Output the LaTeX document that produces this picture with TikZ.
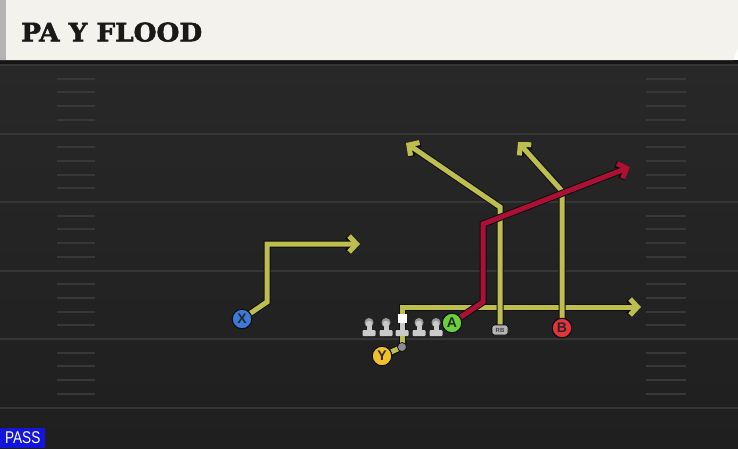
\documentclass[tikz,border=0pt]{standalone}
\usepackage{fontspec}
\usepackage{graphicx}
\setsansfont{Liberation Sans}
\newfontfamily\titlefont{DejaVu Serif}[BoldFont={DejaVu Serif Bold}, BoldFeatures={FakeBold=2}]
\usetikzlibrary{arrows.meta}
\definecolor{fieldtop}{HTML}{282828}
\definecolor{fieldbot}{HTML}{1F1F1F}
\definecolor{hdr}{HTML}{F4F2EC}
\definecolor{hdrstrip}{HTML}{B4B4B4}
\definecolor{band}{HTML}{151515}
\definecolor{fline}{HTML}{363636}
\definecolor{hashc}{HTML}{383838}
\definecolor{route}{HTML}{BDBD50}
\definecolor{redroute}{HTML}{AC1034}
\definecolor{outl}{HTML}{0E0E0E}
\definecolor{xblue}{HTML}{3C7AD8}
\definecolor{ygold}{HTML}{F0C028}
\definecolor{agreen}{HTML}{68D03C}
\definecolor{bred}{HTML}{E5333D}
\definecolor{lmgray}{HTML}{CACACA}
\definecolor{lmknob}{HTML}{9A9A9A}
\definecolor{rbgray}{HTML}{B4B4B4}
\definecolor{passblue}{HTML}{1515DA}
\tikzset{
  tipbarb/.style={-{Straight Barb[length=7.5pt,width=16pt]}},
  rt/.style={draw=route, line width=5pt, line join=miter, tipbarb,
    preaction={draw=outl, line width=7pt}},
  rtplain/.style={draw=route, line width=5pt, line join=miter,
    preaction={draw=outl, line width=7pt}},
  rtred/.style={draw=redroute, line width=5pt, line join=miter, tipbarb,
    preaction={draw=outl, line width=7pt}},
  player/.style={circle, draw=outl, line width=1pt, minimum size=19.5pt,
    inner sep=0pt, font=\sffamily\bfseries\fontsize{14}{14}\selectfont, text=black!85},
  rbstyle/.style={draw=outl, fill=rbgray, rounded corners=2.5pt, line width=0.7pt,
    minimum width=16pt, minimum height=10pt, inner sep=0pt,
    font=\sffamily\bfseries\fontsize{6}{6}\selectfont, text=black!75},
  qbdot/.style={circle, fill=black!45, draw=outl, line width=0.7pt, minimum size=9pt, inner sep=0pt},
  lineman/.pic={
    \fill[lmgray, rounded corners=1pt] (-6.5,-6) rectangle (6.5,0);
    \fill[lmgray] (-2.5,-13) rectangle (2.5,-5);
    \fill[lmknob] (0,-13.5) circle (4.5pt);
    \fill[lmgray] (0,-12) circle (3.2pt);
  },
  centerman/.pic={
    \fill[lmgray, rounded corners=1pt] (-6.5,-6) rectangle (6.5,0);
    \fill[lmgray] (-2.5,-14) rectangle (2.5,-5);
    \fill[white] (-4.5,-22) rectangle (4.5,-13);
  },
  hashmark/.style={draw=hashc, line width=2pt},
  fieldline/.style={draw=fline, line width=2pt}
}
\begin{document}
\begin{tikzpicture}[x=1pt,y=-1pt]
\useasboundingbox (0,0) rectangle (738,448);
% field
\fill[top color=fieldtop, bottom color=fieldbot] (0,60) rectangle (738,448);
\fill[band] (0,60) rectangle (738,65);
\foreach \L in {65,133.5,202,270.5,339,407.5}{
  \draw[fieldline] (0,\L) -- (738,\L);
}
\foreach \L in {133.5,202,270.5,339,407.5}{
  \foreach \k in {1,2,3,4}{
    \draw[hashmark] (57,\L-13.7*\k) -- (95,\L-13.7*\k);
    \draw[hashmark] (646,\L-13.7*\k) -- (686,\L-13.7*\k);
  }
}
% header
\fill[hdr] (0,0) -- (738,0) -- (738,48) -- (733,60) -- (0,60) -- cycle;
\fill[hdrstrip] (0,0) rectangle (6,60);
\node[anchor=south west, inner sep=0pt, text=black!90] (title) at (21,42)
  {\resizebox{181pt}{19pt}{\titlefont\bfseries PA Y FLOOD}};

% coordinates
\coordinate (xb) at (267,302);
\coordinate (xc) at (267,244);
\coordinate (xe) at (360,244);
\coordinate (yc) at (402,307);
\coordinate (ye) at (641,307);
\coordinate (ab) at (483,302);
\coordinate (ac) at (483,224);
\coordinate (ae) at (630,167);
\coordinate (rbc) at (500,207);
\coordinate (rbe) at (406,143);
\coordinate (bc) at (562,191);
\coordinate (be) at (518,142);

% players (positions)
\node[player, fill=xblue] (X) at (242,319) {X};
\node[player, fill=ygold] (Y) at (382,356) {Y};
\node[player, fill=agreen] (A) at (452,323) {A};
\node[player, fill=bred] (B) at (562,328) {B};
\node[qbdot] (qb) at (402,347) {};
\node[rbstyle] (RB) at (500,330) {RB};

% routes
\draw[rt] (X) -- (xb) -- (xc) -- (xe);
\draw[rtplain] (Y) -- (qb.center);
\draw[rt] (qb.center) -- (yc) -- (ye);
\draw[rt] (RB) -- (rbc) -- (rbe);
\draw[rt] (B) -- (bc) -- (be);
\draw[rtred] (A) -- (ab) -- (ac) -- (ae);

% redraw players on top
\node[player, fill=xblue] at (X) {X};
\node[player, fill=ygold] at (Y) {Y};
\node[player, fill=agreen] at (A) {A};
\node[player, fill=bred] at (B) {B};
\node[qbdot] at (qb) {};
\node[rbstyle] at (RB) {RB};

% offensive line
\foreach \x in {369,386,419,436}{
  \pic at (\x,336) {lineman};
}
\pic at (402,336) {centerman};

% pass tag
\node[fill=passblue, anchor=south west, minimum width=45pt, minimum height=20pt,
  inner sep=0pt, text=white, font=\sffamily\fontsize{17}{17}\selectfont] (pass) at (0,448)
  {\scalebox{0.8}[1]{PASS}};
\end{tikzpicture}
\end{document}
